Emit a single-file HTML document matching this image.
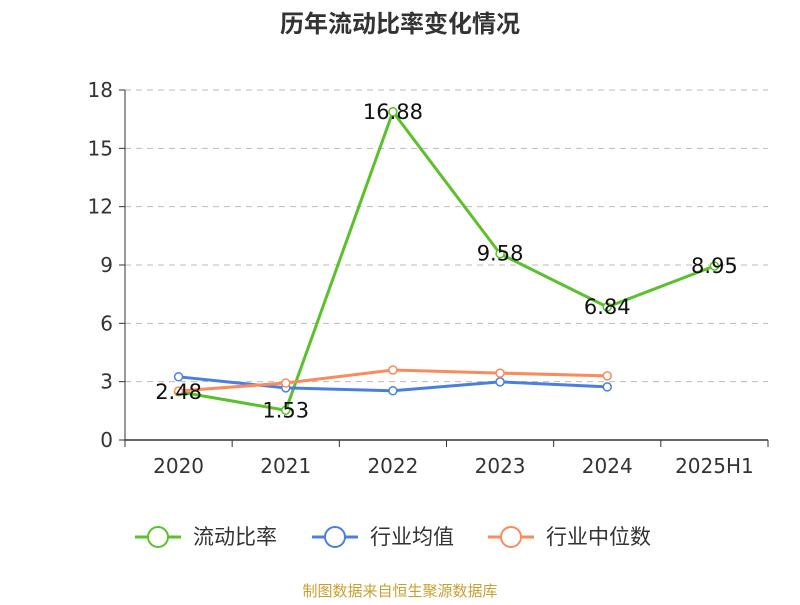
<!DOCTYPE html>
<html><head><meta charset="utf-8"><style>
body{margin:0;background:#fff;}
svg text{font-family:"DejaVu Sans","Liberation Sans","Noto Sans CJK SC",sans-serif;}
</style></head><body>
<svg id="c" width="800" height="600" xmlns="http://www.w3.org/2000/svg"></svg>
<script>
const categories=["2020","2021","2022","2023","2024","2025H1"];
const ratio=[2.48,1.53,16.88,9.58,6.84,8.95];
const avg=[3.25,2.68,2.53,2.99,2.73];
const median=[2.52,2.93,3.6,3.44,3.3];
const yTicks=[0,3,6,9,12,15,18];
const svg=document.getElementById('c');
const NS='http://www.w3.org/2000/svg';
function el(t,a,txt){const e=document.createElementNS(NS,t);for(const k in a)e.setAttribute(k,a[k]);if(txt!=null)e.textContent=txt;svg.appendChild(e);return e;}
const x0=125,x1=768,y0=440,y1=90;
const bw=(x1-x0)/categories.length;
const xs=i=>x0+bw*(i+0.5);
const ys=v=>y0-(v/18)*(y0-y1);
let t=el('text',{x:400,y:32,'text-anchor':'middle','font-size':24,'font-weight':'bold',fill:'#333',style:'font-family:"Liberation Sans","Noto Sans CJK SC",sans-serif'},'历年流动比率变化情况');

yTicks.forEach(v=>{
 if(v>0){const g=el('line',{x1:x0,x2:x1,y1:ys(v),y2:ys(v),stroke:'#bbb','stroke-dasharray':'6,5','stroke-width':1});
 }
 const tk=el('line',{x1:x0-6,x2:x0,y1:ys(v),y2:ys(v),stroke:'#333'});
 
 const l=el('text',{x:x0-12,y:ys(v)+7,'text-anchor':'end','font-size':20,fill:'#333'},v);
 
});
let a=el('line',{x1:x0,x2:x0,y1:y1,y2:y0,stroke:'#333'});
a=el('line',{x1:x0,x2:x1,y1:y0,y2:y0,stroke:'#333','stroke-width':1.5});
categories.forEach((c,i)=>{
 const tk=el('line',{x1:x0+bw*i,x2:x0+bw*i,y1:y0,y2:y0+7,stroke:'#333'});
 
 const l=el('text',{x:xs(i),y:y0+33,'text-anchor':'middle','font-size':20,fill:'#333'},c);
 
});
let tk=el('line',{x1:x1,x2:x1,y1:y0,y2:y0+7,stroke:'#333'});
function series(vals,color,name){
 const p=el('polyline',{points:vals.map((v,i)=>xs(i)+','+ys(v)).join(' '),fill:'none',stroke:color,'stroke-width':3});
 
 vals.forEach((v,i)=>{const c=el('circle',{cx:xs(i),cy:ys(v),r:4,fill:'#fff',stroke:color,'stroke-width':1.5});
 });
}
series(ratio,'#5bc12a','ratio');
series(avg,'#4a7fe0','industry-avg');
series(median,'#f98b5c','industry-median');
ratio.forEach((v,i)=>{const l=el('text',{x:xs(i),y:ys(v)+7,'text-anchor':'middle','font-size':21,fill:'#111'},v.toFixed(2));
 });
const leg=[['流动比率','#5bc12a',135],['行业均值','#4a7fe0',312],['行业中位数','#f98b5c',488]];
leg.forEach(([n,c,x])=>{
 const g=el('line',{x1:x,x2:x+46,y1:537,y2:537,stroke:c,'stroke-width':3});
 
 const ci=el('circle',{cx:x+23,cy:537,r:10,fill:'#fff',stroke:c,'stroke-width':2});
 
 const l=el('text',{x:x+58,y:544,'font-size':21,fill:'#333'},n);
 
});
t=el('text',{x:400,y:596,'text-anchor':'middle','font-size':15,fill:'#c9a030'},'制图数据来自恒生聚源数据库');

</script>
</body></html>
